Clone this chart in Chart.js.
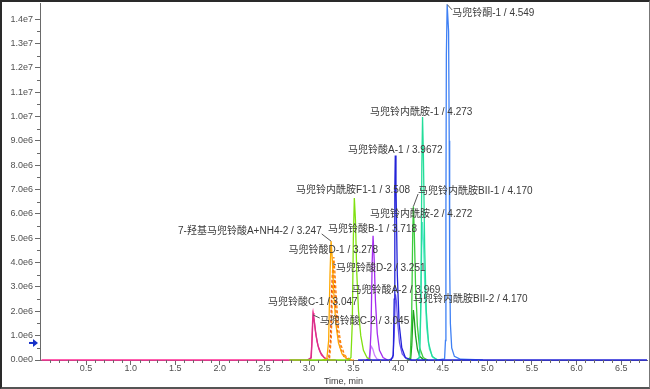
<!DOCTYPE html>
<html>
<head>
<meta charset="utf-8">
<script src="https://cdn.jsdelivr.net/npm/chart.js@4.4.1/dist/chart.umd.min.js"></script>
<style>
    html, body { margin: 0; padding: 0; background: #fff; }
    #frame {
        width: 650px; height: 389px; box-sizing: border-box;
        border-top: 2px solid #2a2a2a; border-left: 2px solid #2a2a2a;
        border-right: 1px solid #777; border-bottom: 2px solid #555;
    }
    canvas { display: block; }
</style>
</head>
<body>
<div id="frame"><canvas id="chrom" width="647" height="385"></canvas></div>
<script>
// axis tick labels
const xTickLabels = ['0.5', '1.0', '1.5', '2.0', '2.5', '3.0', '3.5', '4.0', '4.5', '5.0', '5.5', '6.0', '6.5'];
const yTickLabels = ['0.0e0', '1.0e6', '2.0e6', '3.0e6', '4.0e6', '5.0e6', '6.0e6', '7.0e6',
    '8.0e6', '9.0e6', '1.0e7', '1.1e7', '1.2e7', '1.3e7', '1.4e7'];

// traces: [time (min), intensity (x1e6 cps)]
const peakA1 = [[3.55, 0], [3.92, 0], [3.945, 0.2], [3.955, 2.5], [3.962, 7.0], [3.9672, 8.4], [3.975, 7.2],
    [3.99, 3.5], [4.01, 1.5], [4.04, 0.5], [4.08, 0.1], [4.15, 0], [6.79, 0]];
const peakF1 = [[2.78, 0], [3.44, 0], [3.47, 0.1], [3.485, 1.5], [3.497, 5.0], [3.508, 6.65], [3.52, 5.8],
    [3.535, 3.6], [3.555, 2.0], [3.58, 1.0], [3.61, 0.4], [3.65, 0.1], [3.70, 0]];
const peakKetone1 = [[4.45, 0], [4.52, 0.05], [4.53, 0.8], [4.535, 6.0], [4.54, 12.5], [4.549, 14.6], [4.565, 13.5],
    [4.572, 9.0], [4.577, 4.0], [4.585, 1.5], [4.60, 0.5], [4.63, 0.15], [4.70, 0.03], [4.95, 0]];
const peakLactam1 = [[4.20, 0], [4.24, 0.1], [4.255, 2.5], [4.265, 8.0], [4.273, 9.98], [4.282, 8.5], [4.297, 4.6],
    [4.315, 2.0], [4.34, 0.7], [4.38, 0.15], [4.44, 0]];
const peakLactam2 = [[4.20, 0], [4.235, 0.1], [4.25, 1.4], [4.263, 4.5], [4.272, 5.67], [4.283, 4.9], [4.30, 2.8],
    [4.32, 1.3], [4.35, 0.45], [4.39, 0.1], [4.45, 0]];
const peakBII1 = [[4.10, 0], [4.135, 0.1], [4.15, 1.5], [4.162, 5.0], [4.170, 6.3], [4.18, 5.3], [4.195, 3.0],
    [4.215, 1.4], [4.24, 0.5], [4.28, 0.1], [4.33, 0]];
const peakBII2 = [[4.10, 0], [4.14, 0.05], [4.152, 0.6], [4.163, 1.6], [4.170, 2.05], [4.18, 1.7], [4.195, 1.0],
    [4.215, 0.45], [4.24, 0.15], [4.28, 0.03], [4.33, 0]];
const peakA2 = [[3.90, 0], [3.94, 0.1], [3.955, 1.0], [3.969, 2.7], [3.98, 2.4], [3.995, 1.5], [4.015, 0.7],
    [4.045, 0.25], [4.09, 0.05], [4.15, 0]];
const peakB1 = [[3.64, 0], [3.68, 0.05], [3.695, 1.2], [3.708, 4.0], [3.718, 5.1], [3.73, 4.2], [3.745, 2.4],
    [3.765, 1.1], [3.79, 0.4], [3.83, 0.1], [3.88, 0]];
const peakB2 = [[3.64, 0], [3.675, 0.1], [3.69, 0.45], [3.70, 0.55], [3.715, 0.45], [3.735, 0.2], [3.76, 0.05], [3.80, 0]];
const peakOHA = [[3.15, 0], [3.20, 0.05], [3.22, 0.8], [3.235, 3.5], [3.247, 4.88], [3.26, 4.2], [3.28, 2.6],
    [3.30, 1.5], [3.33, 0.7], [3.37, 0.25], [3.42, 0.05], [3.48, 0]];
const peakD1 = [[3.18, 0], [3.23, 0.05], [3.25, 0.9], [3.265, 3.2], [3.278, 4.23], [3.29, 3.6], [3.31, 2.3],
    [3.33, 1.3], [3.36, 0.6], [3.40, 0.2], [3.45, 0.04], [3.50, 0]];
const peakD2 = [[3.18, 0], [3.22, 0.05], [3.24, 0.8], [3.255, 3.0], [3.268, 3.95], [3.28, 3.4], [3.30, 2.1],
    [3.32, 1.1], [3.35, 0.5], [3.39, 0.15], [3.45, 0]];
const peakC2 = [[2.98, 0], [3.025, 0.1], [3.035, 0.9], [3.045, 1.85], [3.06, 1.55], [3.08, 1.0], [3.10, 0.6],
    [3.13, 0.3], [3.17, 0.1], [3.22, 0]];
const peakC1 = [[0, 0], [2.99, 0], [3.02, 0.05], [3.03, 0.6], [3.04, 1.6], [3.047, 1.93], [3.055, 1.75], [3.07, 1.2],
    [3.09, 0.75], [3.11, 0.45], [3.14, 0.2], [3.18, 0.06], [3.24, 0], [3.30, 0]];

// peak label text
const peakNames = ['马兜铃酸A-1', '马兜铃内酰胺F1-1', '马兜铃酮-1', '马兜铃内酰胺-1', '马兜铃内酰胺-2',
    '马兜铃内酰胺BII-1', '马兜铃内酰胺BII-2', '马兜铃酸A-2', '马兜铃酸B-1', '', '7-羟基马兜铃酸A+NH4-2',
    '马兜铃酸D-1', '马兜铃酸D-2', '马兜铃酸C-2', '马兜铃酸C-1'];
const peakRT = ['3.9672', '3.508', '4.549', '4.273', '4.272', '4.170', '4.170', '3.969', '3.718', '', '3.247',
    '3.278', '3.251', '3.045', '3.047'];
// where each label sits: [time, intensity x1e6] of its left middle
const labelAt = [[3.438, 8.62], [2.855, 6.98], [4.605, 14.25], [3.685, 10.18], [3.685, 5.99],
    [4.223, 6.94], [4.167, 2.5], [3.475, 2.87], [3.214, 5.38], null, [1.531, 5.3],
    [2.77, 4.52], [3.303, 3.78], [3.12, 1.6], [2.541, 2.38]];
const hasLeader = [false, false, true, false, false, true, false, false, false, false, true, false, true, true, false];

const traces = [peakA1, peakF1, peakKetone1, peakLactam1, peakLactam2, peakBII1, peakBII2, peakA2,
    peakB1, peakB2, peakOHA, peakD1, peakD2, peakC2, peakC1];
const traceColors = ['#2323d8', '#80e010', '#3f80f4', '#22dd99', '#5ae6cc', '#3ccc3c', '#1c9e1c', '#6a58ee',
    '#a42cf0', '#cc80ff', '#ffa800', '#ff8000', '#e0441c', '#d8308a', '#ff2a94'];
const dashed = [false, false, false, false, false, false, false, false, false, false, false, true, true, false, false];

const markerLevel = 0.7e6;

const MIL = 1e6;

const minorTicks = {
    id: 'minorTicks',
    afterDraw(chart) {
        const { ctx, chartArea: a } = chart;
        const x = chart.scales.x, y = chart.scales.y;
        ctx.save();
        ctx.strokeStyle = '#6a6a6a';
        ctx.lineWidth = 1;
        ctx.beginPath();
        for (let i = 1; i <= 67; i++) {
            if (i % 5 === 0) continue;
            const px = Math.round(x.getPixelForValue(i / 10)) + 0.5;
            ctx.moveTo(px, a.bottom);
            ctx.lineTo(px, a.bottom + 3);
        }
        for (let i = 1; i < 29; i += 2) {
            const py = Math.round(y.getPixelForValue(i * 0.5 * MIL)) + 0.5;
            ctx.moveTo(a.left, py);
            ctx.lineTo(a.left - 3, py);
        }
        ctx.stroke();

        // injection marker arrow on the y axis
        const my = y.getPixelForValue(markerLevel);
        ctx.fillStyle = '#1530c8';
        ctx.strokeStyle = '#1530c8';
        ctx.lineWidth = 2;
        ctx.beginPath();
        ctx.moveTo(a.left - 2, my);
        ctx.lineTo(a.left - 7, my - 4);
        ctx.lineTo(a.left - 7, my + 4);
        ctx.closePath();
        ctx.fill();
        ctx.beginPath();
        ctx.moveTo(a.left - 11, my);
        ctx.lineTo(a.left - 6, my);
        ctx.stroke();
        ctx.restore();
    }
};

const peakLabels = {
    id: 'peakLabels',
    afterDatasetsDraw(chart) {
        const { ctx } = chart;
        const x = chart.scales.x, y = chart.scales.y;
        ctx.save();
        ctx.font = '10px "Liberation Sans", "Noto Sans CJK SC", sans-serif';
        ctx.fillStyle = '#3a3a3a';
        ctx.textBaseline = 'middle';
        ctx.strokeStyle = '#555';
        ctx.lineWidth = 1;
        traces.forEach((tr, i) => {
            if (!labelAt[i]) return;
            const text = peakNames[i] + ' / ' + peakRT[i];
            const lx = x.getPixelForValue(labelAt[i][0]);
            const ly = y.getPixelForValue(labelAt[i][1] * MIL);
            if (hasLeader[i]) {
                const top = tr.reduce((m, p) => (p[1] > m[1] ? p : m));
                const px = x.getPixelForValue(top[0]);
                const py = Math.max(y.getPixelForValue(top[1] * MIL), chart.chartArea.top);
                const ex = px > lx ? lx + ctx.measureText(text).width : lx;
                ctx.beginPath();
                ctx.moveTo(px, py);
                ctx.lineTo(ex, ly + (py > ly ? 3 : -3));
                ctx.stroke();
            }
            ctx.fillText(text, lx, ly);
        });
        ctx.restore();
    }
};

Chart.defaults.font.family = '"Liberation Sans", sans-serif';
Chart.defaults.font.size = 9;
Chart.defaults.color = '#505050';

new Chart(document.getElementById('chrom'), {
    type: 'scatter',
    data: {
        datasets: traces.map((tr, i) => ({
            data: tr.map(p => ({ x: p[0], y: p[1] * MIL })),
            showLine: true,
            borderColor: traceColors[i],
            borderWidth: 1.3,
            borderDash: dashed[i] ? [3, 2] : [],
            pointRadius: 0,
            tension: 0,
            clip: 2
        }))
    },
    options: {
        responsive: false,
        animation: false,
        devicePixelRatio: 1,
        layout: { padding: { left: 0, right: 2, top: 1, bottom: 0 } },
        plugins: { legend: { display: false }, tooltip: { enabled: false } },
        scales: {
            x: {
                type: 'linear',
                min: -0.017,
                max: 6.79,
                afterFit: s => { s.height = 27; s.paddingLeft = 0; s.paddingRight = 0; },
                afterBuildTicks: s => { s.ticks = xTickLabels.map(v => ({ value: Number(v) })); },
                ticks: {
                    padding: -2,
                    maxRotation: 0,
                    autoSkip: false,
                    callback: (v, i) => xTickLabels[i]
                },
                grid: { drawOnChartArea: false, tickLength: 5, color: '#6a6a6a' },
                border: { color: '#6a6a6a' },
                title: { display: true, text: 'Time, min', color: '#3a3a3a', font: { size: 9 }, padding: { top: 0, bottom: 0 } }
            },
            y: {
                type: 'linear',
                min: 0,
                max: 14.66e6,
                afterFit: s => { s.width = 38; s.paddingTop = 0; s.paddingBottom = 0; },
                afterBuildTicks: s => { s.ticks = yTickLabels.map(v => ({ value: Number(v) })); },
                ticks: {
                    padding: 2,
                    autoSkip: false,
                    callback: (v, i) => yTickLabels[i]
                },
                grid: { drawOnChartArea: false, tickLength: 5, color: '#6a6a6a' },
                border: { color: '#6a6a6a' }
            }
        }
    },
    plugins: [minorTicks, peakLabels]
});
</script>
</body>
</html>
